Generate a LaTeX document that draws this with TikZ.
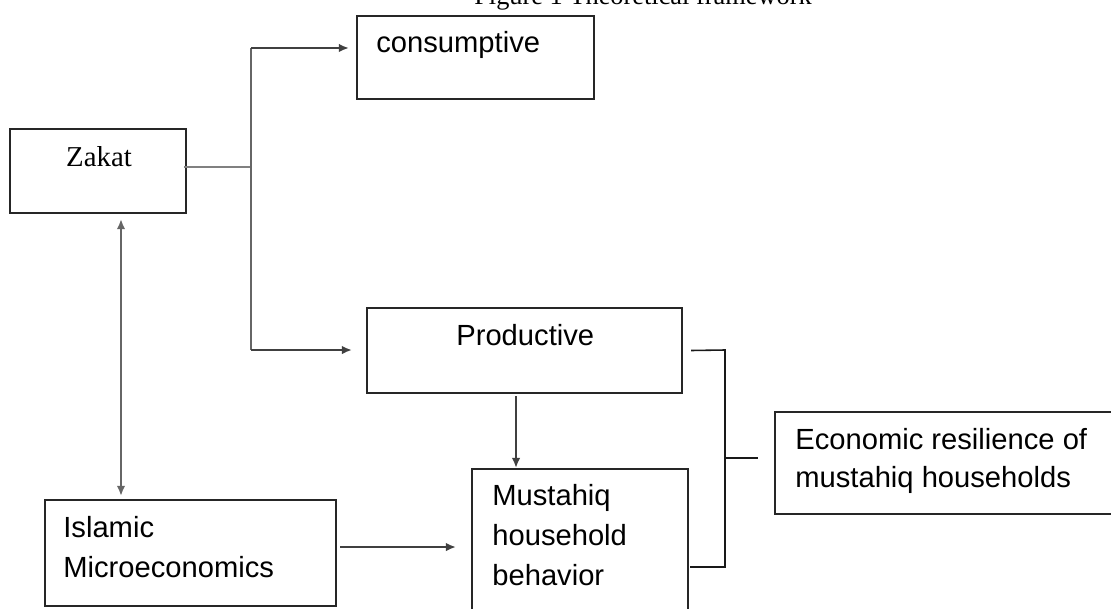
\documentclass[tikz,border=0pt]{standalone}
\usepackage{fontspec}
\newfontfamily\arialfont{Liberation Sans}
\newfontfamily\timesfont{Liberation Serif}
\usepackage{tikz}
\usetikzlibrary{arrows.meta}

\tikzset{
  box/.style={draw=black!85, line width=1.2pt, inner sep=0pt},
  txt/.style={inner sep=0pt, anchor=base west, align=left, font=\arialfont\fontsize{16.6}{20}\selectfont},
  link/.style={draw=black!75, line width=1.4pt},
  arrow/.style={link, -{Latex[length=2mm, width=1.7mm]}},
  bracket/.style={draw=black!90, line width=0.9pt}
}

\begin{document}
\begin{tikzpicture}[x=0.02cm, y=-0.02cm]
    \useasboundingbox (0,0) rectangle (1111,608);
    \clip (0,0) rectangle (1111,608);

    % Title
    \node[inner sep=0pt, anchor=base, font=\timesfont\fontsize{15}{18}\selectfont] (title) at (643,5) {Figure 1 Theoretical framework};

    % Zakat
    \node[box, minimum width=3.52cm, minimum height=1.68cm] (zakat) at (98,171) {};
    \node[inner sep=0pt, anchor=base, font=\timesfont\fontsize{16.4}{20}\selectfont] (zakattext) at (99,166) {Zakat};

    % consumptive
    \node[box, minimum width=4.74cm, minimum height=1.66cm] (cons) at (475.5,57.5) {};
    \node[txt] (constext) at (376,53) {consumptive};

    % Productive
    \node[box, minimum width=6.3cm, minimum height=1.7cm] (prod) at (524.5,350.5) {};
    \node[txt] (prodtext) at (456,345) {Productive};

    % Mustahiq household behavior (anchored on last line)
    \node[box, minimum width=4.32cm, minimum height=3.62cm] (must) at (580,559.5) {};
    \node[txt] (musttext) at (492,585) {Mustahiq\\[2.7pt]household\\[2.7pt]behavior};

    % Islamic Microeconomics
    \node[box, minimum width=5.82cm, minimum height=2.12cm] (islam) at (190.5,553) {};
    \node[txt] (islamtext) at (63,577) {Islamic\\[2.7pt]Microeconomics};

    % Economic resilience
    \node[box, minimum width=7.1cm, minimum height=2.04cm] (econ) at (952.5,463) {};
    \node[txt] (econtext) at (795,487) {Economic resilience of\\[1.5pt]mustahiq households};

    % Fork from Zakat
    \coordinate (fork) at (251,167);
    \coordinate (forktop) at (251,48);
    \coordinate (forkbot) at (251,350);
    \draw[link, draw=black!50] ([xshift=-0.06cm]zakat.east |- fork) -- (fork);
    \draw[link, draw=black!60] (forktop) -- (forkbot);
    \draw[arrow, shorten >=0.14cm] (forktop) -- (cons.west |- forktop);
    \draw[arrow, shorten >=0.28cm] (forkbot) -- (prod.west |- forkbot);

    % Arrows
    \draw[arrow, draw=black!60, {Latex[length=2mm, width=1.7mm]}-{Latex[length=2mm, width=1.7mm]}, shorten <=0.1cm, shorten >=0.06cm] ([xshift=0.46cm]zakat.south) -- ([xshift=0.46cm]zakat.south |- islam.north);
    \draw[arrow, shorten <=0.04cm] ([xshift=-0.17cm]prod.south) -- ([xshift=-0.17cm]prod.south |- must.north);
    \draw[arrow, shorten <=0.06cm, shorten >=0.3cm] ([yshift=0.12cm]islam.east) -- ([yshift=0.12cm]islam.east -| must.west);

    % Bracket to resilience
    \coordinate (brtop) at (725,350);
    \coordinate (brbot) at (725,567);
    \coordinate (brend) at (690,567);
    \coordinate (brmid) at (725,458);
    \draw[bracket] ([xshift=0.16cm]prod.east) -- (brtop) -- (brbot) -- (brend);
    \draw[bracket] (brmid) -- ([xshift=-0.32cm]econ.west |- brmid);
\end{tikzpicture}
\end{document}
